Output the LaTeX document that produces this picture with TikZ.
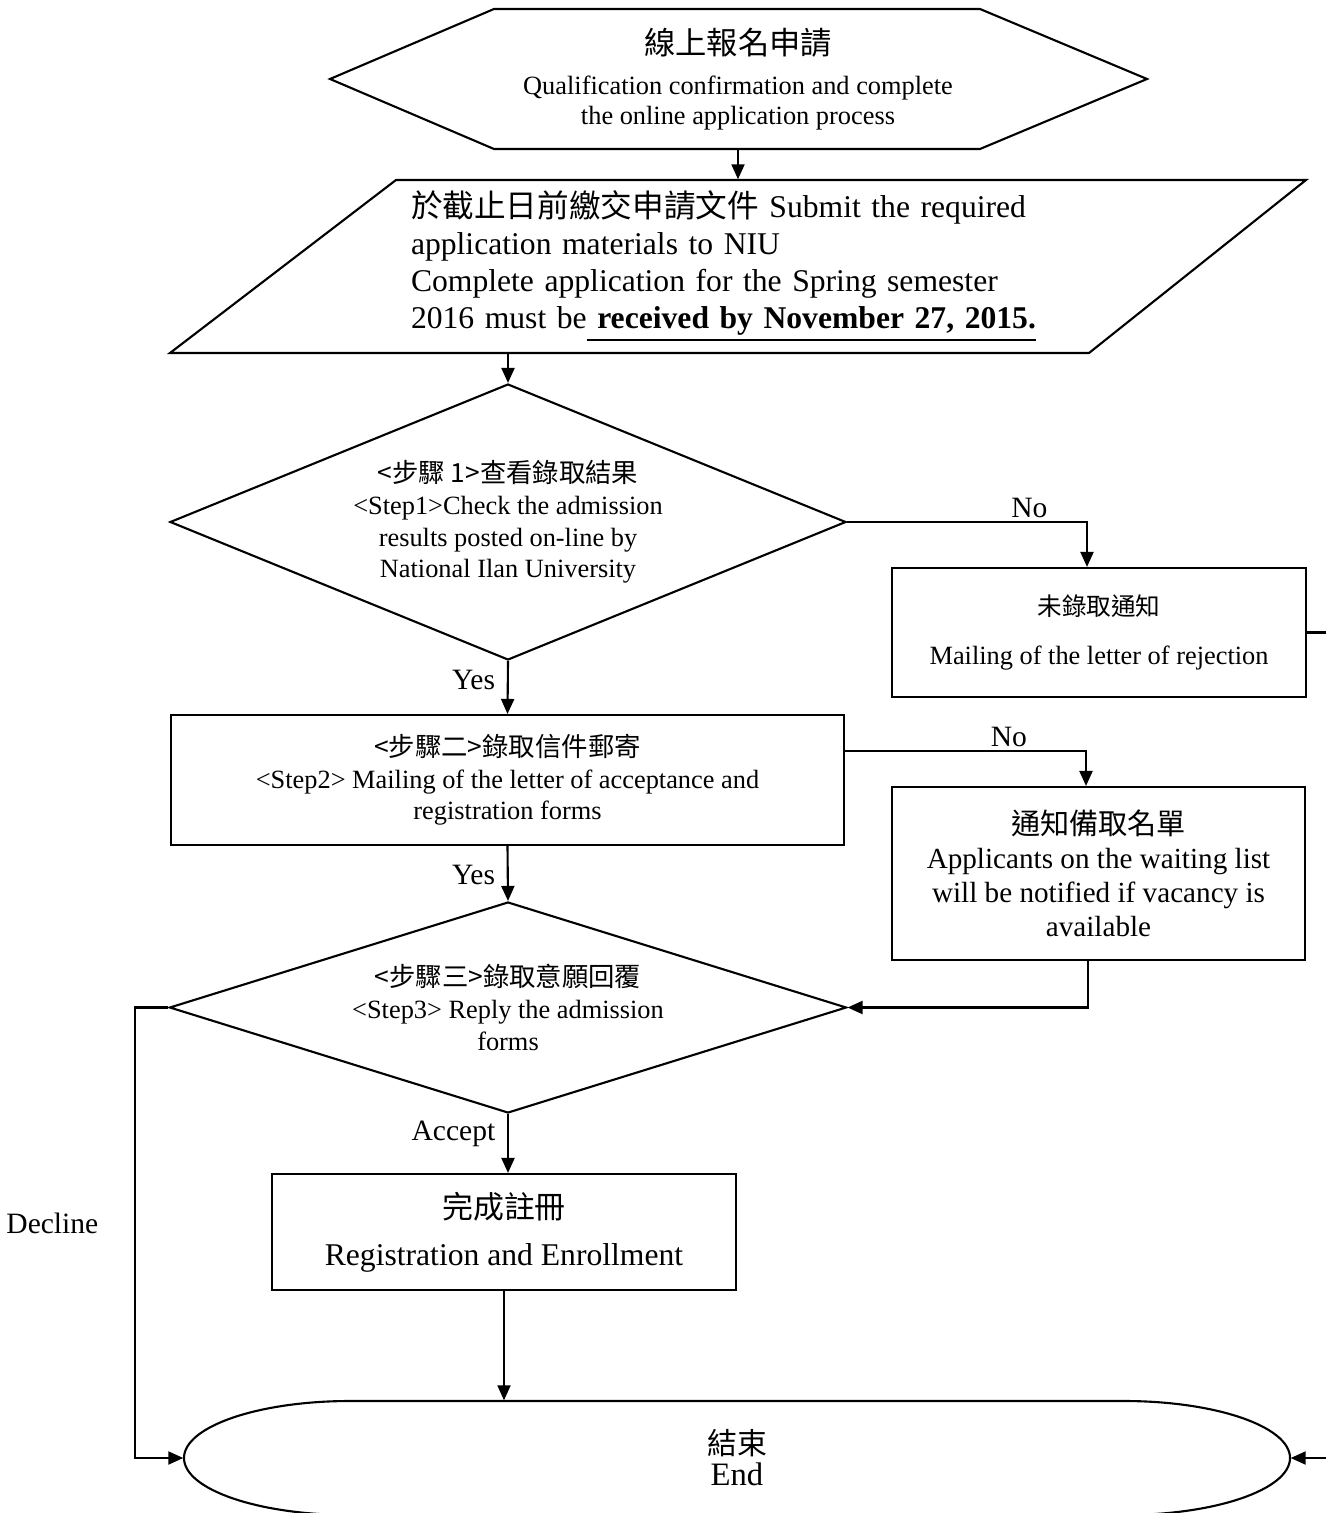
\documentclass[tikz,border=0pt]{standalone}
\usepackage{fontspec}
\setmainfont{Liberation Serif}
\newfontfamily\cjk{Noto Sans CJK TC}
\usetikzlibrary{shapes.geometric,arrows.meta}

\newcommand{\fsmall}{\fontsize{7.5}{9}\selectfont}
\newcommand{\fmid}{\fontsize{8.3}{9.7}\selectfont}
\newcommand{\fbig}{\fontsize{9}{10.5}\selectfont}

\tikzset{
  outline/.style={draw,line width=0.6pt},
  arrow/.style={line width=0.6pt,-{Triangle[length=1.5mm,width=1.3mm]}},
  box/.style={outline,rectangle,align=center,inner sep=0pt},
  decision/.style={outline,diamond,align=center,inner sep=0pt},
  answer/.style={font=\fontsize{8.4}{10}\selectfont}
}

\begin{document}
\begin{tikzpicture}
\useasboundingbox (0,0) rectangle (13.26,-15.13);

\draw[outline] (3.30,-0.79) -- (4.94,-0.09) -- (9.80,-0.09) -- (11.47,-0.79) -- (9.80,-1.49) -- (4.94,-1.49) -- cycle;
\node[align=center,inner sep=0pt,minimum height=1.40cm,font=\fontsize{7.5}{8.5}\selectfont] (apply) at (7.38,-0.79)
  {{\cjk\fontsize{8.9}{8.9}\selectfont 線上報名申請}\\[3pt]
   Qualification confirmation and complete\\ the online application process};

\draw[outline] (3.96,-1.80) -- (13.06,-1.80) -- (10.89,-3.53) -- (1.70,-3.53) -- cycle;
\node[text width=6.54cm,align=left,inner sep=0pt,minimum height=1.73cm,font=\fbig] (submit) at (7.38,-2.665)
  {{\cjk 於截止日前繳交申請文件} Submit the required\\
   application materials to NIU\\
   Complete application for the Spring semester\\
   2016 must be\underline{\textbf{ received by November 27, 2015.}}};

\node[decision,aspect=2.45,minimum width=6.76cm,minimum height=2.76cm,font=\fsmall] (check) at (5.08,-5.22)
  {{\cjk <步驟 1>查看錄取結果}\\ <Step1>Check the admission\\ results posted on-line by\\ National Ilan University};

\node[box,minimum width=4.14cm,minimum height=1.29cm,font=\fsmall] (reject) at (10.99,-6.325)
  {{\cjk\fontsize{7}{7}\selectfont 未錄取通知}\\[5pt] Mailing of the letter of rejection};

\node[box,minimum width=6.73cm,minimum height=1.30cm,font=\fsmall] (mail) at (5.075,-7.80)
  {{\cjk <步驟二>錄取信件郵寄}\\ <Step2> Mailing of the letter of acceptance and\\ registration forms};

\node[box,minimum width=4.13cm,minimum height=1.73cm,font=\fmid] (wait) at (10.985,-8.735)
  {{\cjk 通知備取名單}\\ Applicants on the waiting list\\ will be notified if vacancy is\\ available};

\node[decision,aspect=3.2,minimum width=6.77cm,minimum height=2.11cm,font=\fsmall] (reply) at (5.08,-10.075)
  {{\cjk <步驟三>錄取意願回覆}\\ <Step3> Reply the admission\\ forms};

\node[box,minimum width=4.64cm,minimum height=1.16cm,font=\fbig] (enrol) at (5.04,-12.32)
  {{\cjk\fontsize{8.8}{8.8}\selectfont 完成註冊}\\[3pt] Registration and Enrollment};

\draw[outline] (3.50,-14.01) -- (11.24,-14.01) arc[start angle=90,end angle=-90,x radius=1.66,y radius=0.57]
  -- (3.50,-15.15) arc[start angle=270,end angle=90,x radius=1.66,y radius=0.57];
\node[align=center,inner sep=0pt,minimum width=11.06cm,minimum height=1.14cm,font=\fontsize{9.3}{8.8}\selectfont] (end) at (7.37,-14.58)
  {{\cjk\fontsize{8.5}{8.5}\selectfont 結束}\\ End};

\coordinate (leftrail) at (1.35,-10);
\coordinate (rightrail) at (13.35,-10);

\draw[arrow] (apply.south) -- (submit.north);
\draw[arrow] (check.north |- submit.south) -- (check.north);
\draw[arrow] (check.east) -| node[answer,above,inner sep=1pt,pos=0.38] {No} ([xshift=-1.2mm]reject.north);
\draw[arrow] (check.south) -- node[answer,left,pos=0.36] {Yes} (mail.north);
\draw[arrow] ([yshift=2.9mm]mail.east) -| node[answer,above,inner sep=1pt,pos=0.34] {No} ([xshift=-1.25mm]wait.north);
\draw[arrow] (mail.south) -- node[answer,left,pos=0.53] {Yes} (reply.north);
\draw[arrow] ([xshift=-1.05mm]wait.south) |- (reply.east);
\draw[arrow] (reply.south) -- node[answer,left,pos=0.33] {Accept} (reply.south |- enrol.north);
\draw[arrow] (enrol.south) -- (enrol.south |- end.north);
\draw[arrow] (reply.west) -| node[answer,left=2.4mm,pos=0.74] {Decline} (leftrail |- end.west) -- (end.west);
\draw[arrow] (reject.east) -| (rightrail |- end.east) -- (end.east);
\end{tikzpicture}
\end{document}
